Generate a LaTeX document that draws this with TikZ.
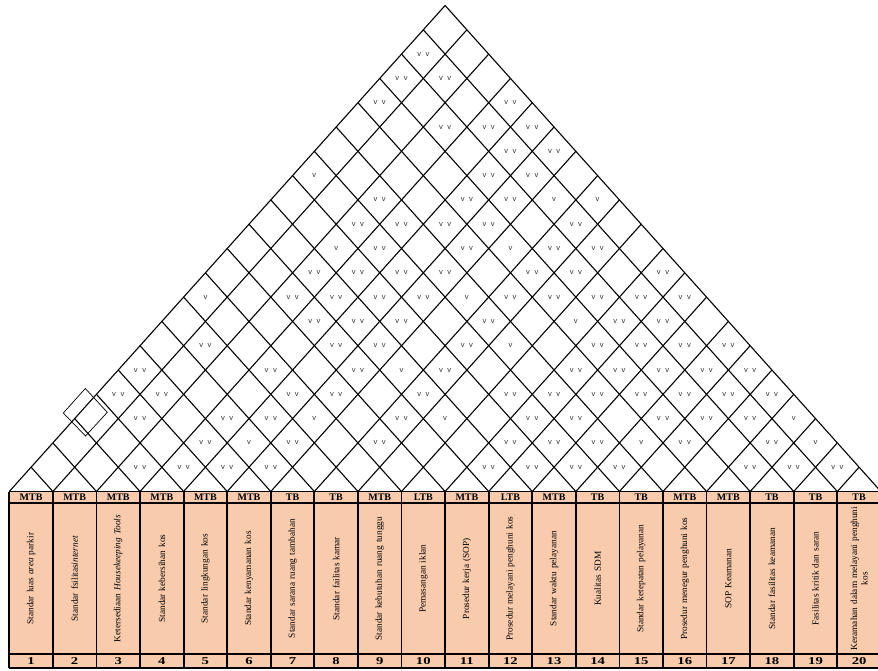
\documentclass[tikz,border=0pt]{standalone}
\usepackage{fontspec}
\usepackage{graphicx}
\setmainfont{Liberation Serif}
\newfontfamily\vfont{Liberation Sans}
\definecolor{peach}{HTML}{F8CBAD}
\begin{document}
\begin{tikzpicture}[x=1pt,y=-1pt,
  roof/.style={line width=1.1pt, draw=black},
  stray/.style={line width=0.7pt, draw=black},
  tline/.style={line width=1.8pt, draw=black},
  vv/.style={font=\vfont\fontsize{7.6}{8}\selectfont, text=black!80, inner sep=0pt},
  hdr/.style={font=\fontsize{10}{11}\selectfont\bfseries, inner sep=0pt},
  lbl/.style={rotate=90, text width=146pt, align=center, font=\fontsize{9.3}{10.5}\selectfont, inner sep=0pt},
  num/.style={font=\fontsize{10.5}{12}\selectfont\bfseries, inner sep=0pt}]
\useasboundingbox (0,0) rectangle (878,670);
\clip (0,0) rectangle (878,670);
% table background
\fill[peach] (9.3,491.5) rectangle (895,668);
% roof grid
\foreach \k in {0,...,20} {
  \draw[roof] ({9.3+43.58*\k},491.5) -- ++({21.79*(20-\k)},{-24.3*(20-\k)});
  \draw[roof] ({9.3+43.58*\k},491.5) -- ++({-21.79*\k},{-24.3*\k});
}
% stray diamond
\draw[stray] (63.3,413) -- (85.3,388.5) -- (107.3,412.3) -- (85.5,436) -- cycle;
% table lines
\foreach \yy in {491.5,503.3,654,668} \draw[tline] (9.3,\yy) -- (895,\yy);
\foreach \k in {0,...,20} \draw[tline] ({9.3+43.58*\k},491.5) -- ({9.3+43.58*\k},668);
% headers
\foreach \t [count=\k] in {MTB,MTB,MTB,MTB,MTB,MTB,TB,TB,MTB,LTB,MTB,LTB,MTB,TB,TB,MTB,MTB,TB,TB,TB}
  \node[hdr] (h\k) at ({9.3+43.58*(\k-0.5)},497.4) {\t};
% labels
\foreach \t [count=\k] in {{Standar luas \textit{area} parkir},
  {Standar fsilitas\textit{internet}},
  {Ketersediaan \textit{Housekeeping Tools}},
  {Standar kebersihan kos},
  {Standar lingkungan kos},
  {Standar kenyamanan kos},
  {Standar sarana ruang tambahan},
  {Standar failitas kamar},
  {Standar kebutuhan ruang tunggu},
  {Pemasangan iklan},
  {Prosedur kerja (SOP)},
  {Prosedur melayani penghuni kos},
  {Standar waktu pelayanan},
  {Kualitas SDM},
  {Standar ketepatan pelayanan},
  {Prosedur menegur penghuni kos},
  {SOP Keamanan},
  {Standar fasilitas keamanan},
  {Fasilitas kritik dan saran}}
  \node[lbl] (l\k) at ({9.3+43.58*(\k-0.5)},578.6) {\t};
\node[lbl, text width=160pt] (l20) at ({9.3+43.58*19.5},578.6) {Keramahan dalam melayani penghuni\\kos};
% numbers
\foreach \k in {1,...,20}
  \node[num] (n\k) at ({9.3+43.58*(\k-0.5)},661) {\scalebox{1.4}[1]{\k}};
% double marks
\foreach \i/\j in {1/19,1/18,2/19,1/17,3/18,4/20,4/19,5/20,5/19,6/20,
  3/15,3/14,4/15,5/16,4/14,3/12,4/13,5/14,6/15,3/11,4/12,5/13,6/14,4/11,5/12,6/13,
  5/18,6/19,5/17,6/18,6/17,8/19,6/16,8/18,9/19,8/17,9/18,11/20,8/16,9/17,10/18,11/19,12/20,8/15,11/18,12/19,
  2/8,1/6,4/9,1/5,2/6,5/9,2/5,4/7,5/8,6/8,4/6,3/4,4/5,5/6,6/7,
  5/11,6/12,8/14,11/17,6/11,8/13,11/16,6/10,8/12,10/14,11/15,8/11,11/14,12/15,8/10,11/13,12/14,11/12,12/13,13/14,
  12/18,13/19,14/20,12/17,13/18,14/19,15/20,12/16,13/17,14/18,15/19,16/20,14/17,15/18,16/19,13/15,15/17,17/19,14/15,17/18,18/19,19/20}
  \node[vv] (c\i-\j) at ({9.3+21.79*(\i+\j-1)},{491.5-24.3*(\j-\i)}) {v\hspace{4.5pt}v};
% single marks
\foreach \i/\j in {1/14,3/13,1/9,7/19,8/20,7/17,7/15,10/17,5/7,9/15,7/12,6/9,9/12,17/20,14/16,18/20}
  \node[vv] (c\i-\j) at ({9.3+21.79*(\i+\j-1)},{491.5-24.3*(\j-\i)}) {v};
\end{tikzpicture}
\end{document}
